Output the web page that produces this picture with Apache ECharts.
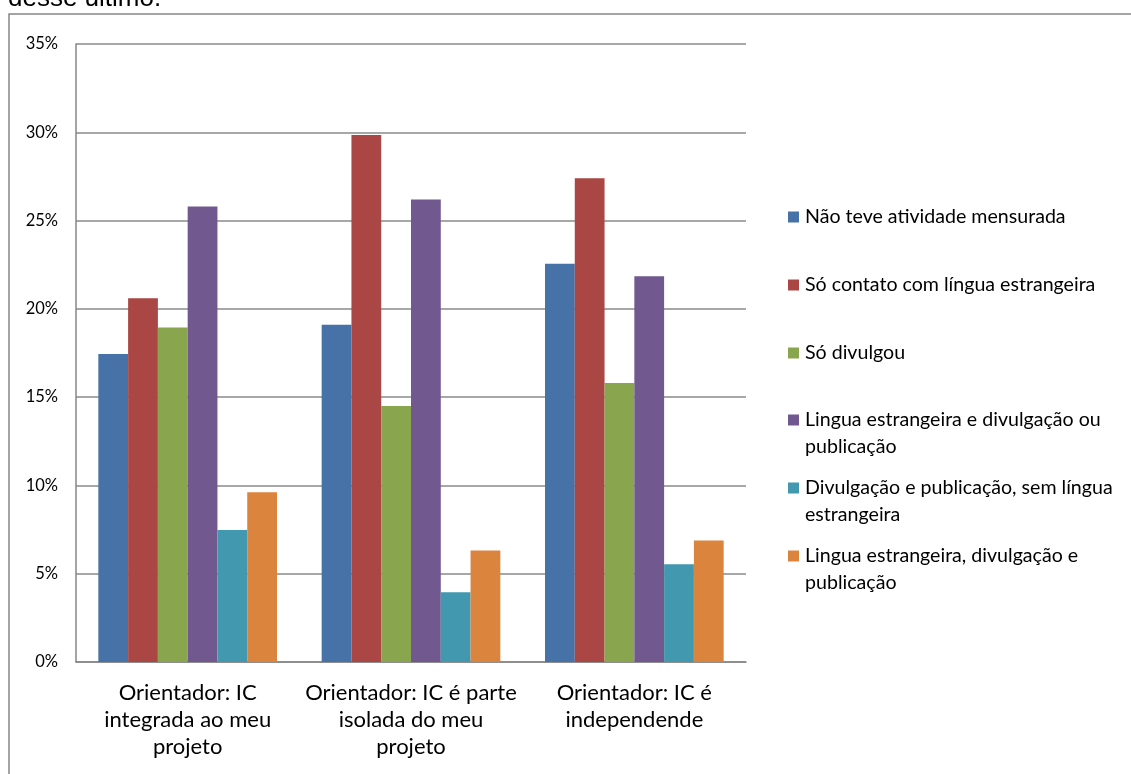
<!DOCTYPE html>
<html>
<head>
<meta charset="utf-8">
<script src="https://cdn.jsdelivr.net/npm/echarts@6/dist/echarts.min.js"></script>
<style>
html,body{margin:0;padding:0;background:#fff;}
#chart{width:1131px;height:774px;}
</style>
</head>
<body>
<div id="chart"></div>
<script>
const categories = [
  "Orientador: IC\nintegrada ao meu\nprojeto",
  "Orientador: IC é parte\nisolada do meu\nprojeto",
  "Orientador: IC é\nindependende"
];
const seriesNames = [
  "Não teve atividade mensurada",
  "Só contato com língua estrangeira",
  "Só divulgou",
  "Lingua estrangeira e divulgação ou publicação",
  "Divulgação e publicação, sem língua estrangeira",
  "Lingua estrangeira, divulgação e publicação"
];
const legendLabels = [
  "Não teve atividade mensurada",
  "Só contato com língua estrangeira",
  "Só divulgou",
  "Lingua estrangeira e divulgação ou\npublicação",
  "Divulgação e publicação, sem língua\nestrangeira",
  "Lingua estrangeira, divulgação e\npublicação"
];
const naoTeve = [17.45, 19.1, 22.55];
const soContato = [20.6, 29.85, 27.4];
const soDivulgou = [18.95, 14.5, 15.8];
const linguaDivOuPub = [25.8, 26.2, 21.85];
const divPubSemLingua = [7.47, 3.95, 5.53];
const linguaDivPub = [9.62, 6.32, 6.88];
const yTicks = [0, 5, 10, 15, 20, 25, 30, 35];

const values = [naoTeve, soContato, soDivulgou, linguaDivOuPub, divPubSemLingua, linguaDivPub];
const colors = ["#4672A8", "#AA4643", "#89A54E", "#71588F", "#4198AF", "#DB843D"];
const legendCenters = [217, 285, 353, 420, 488, 556];
const FONT = "Lato";

const chart = echarts.init(document.getElementById('chart'), null, {renderer: 'canvas'});

const legends = seriesNames.map((name, i) => {
  const label = legendLabels[i];
  const twoLine = label.indexOf("\n") >= 0;
  const shown = twoLine ? "\n" + label : label;
  const lines = shown.split("\n").length;
  const h = lines * 27;
  return {
    data: [name],
    orient: 'vertical',
    left: 788,
    top: legendCenters[i] - h / 2,
    padding: 0,
    itemWidth: 11,
    itemHeight: 11,
    icon: 'rect',
    selectedMode: false,
    formatter: () => shown,
    textStyle: {fontFamily: FONT, fontSize: 19.6, color: '#000', lineHeight: 27, padding: [0, 0, 0, 1]}
  };
});

const option = {
  backgroundColor: '#fff',
  animation: false,
  color: colors,
  graphic: [
    {type: 'rect', shape: {x: 9, y: 14, width: 1200, height: 800},
     style: {fill: 'none', stroke: '#868686', lineWidth: 1.5}, silent: true},
    {type: 'text', x: 8, y: 12,
     style: {text: 'desse último.', font: '26px "Liberation Sans", Arial, sans-serif', fill: '#000',
              textVerticalAlign: 'bottom', verticalAlign: 'bottom'}}
  ],
  legend: legends,
  grid: {left: 76, right: 385, top: 44, bottom: 112},
  xAxis: {
    type: 'category',
    data: categories,
    axisLine: {show: true, lineStyle: {color: '#868686', width: 1.5}},
    axisTick: {show: false},
    axisLabel: {fontFamily: FONT, fontSize: 22, color: '#000', lineHeight: 27, margin: 17, interval: 0}
  },
  yAxis: {
    type: 'value',
    min: yTicks[0],
    max: yTicks[yTicks.length - 1],
    interval: 5,
    axisLine: {show: true, lineStyle: {color: '#868686', width: 1.5}},
    axisTick: {show: false},
    splitLine: {show: true, lineStyle: {color: '#8a8a8a', width: 1.6}},
    axisLabel: {fontFamily: FONT, fontSize: 16.5, color: '#000', margin: 18, formatter: '{value}%'}
  },
  series: seriesNames.map((name, i) => ({
    name: name,
    type: 'bar',
    data: values[i],
    barGap: '0%',
    barCategoryGap: '20%',
    itemStyle: {color: colors[i]}
  }))
};
chart.setOption(option);
</script>
</body>
</html>
